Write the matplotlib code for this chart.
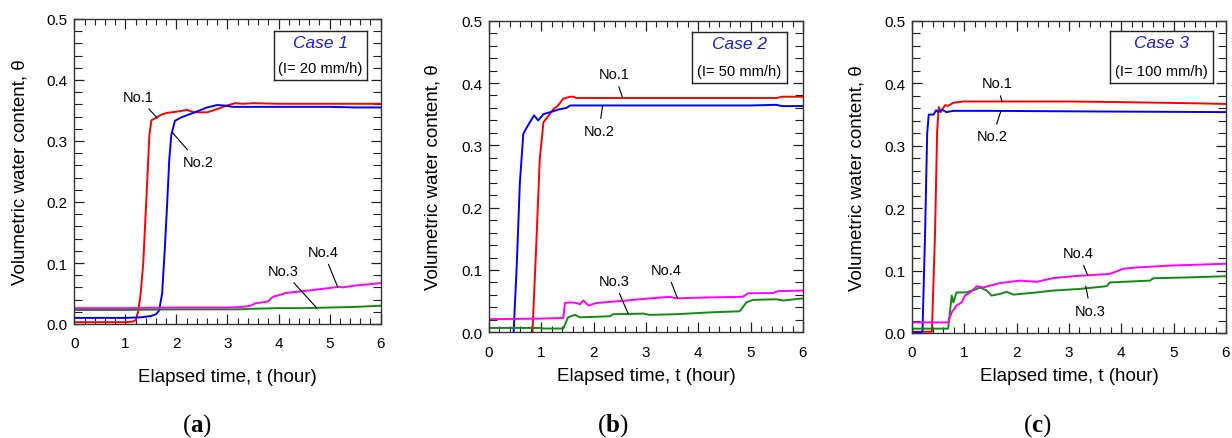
import matplotlib
matplotlib.use("Agg")
import matplotlib.pyplot as plt
from matplotlib.ticker import MultipleLocator

plt.rcParams['font.family'] = ['Liberation Sans', 'DejaVu Sans']
plt.rcParams['mathtext.fontset'] = 'custom'
plt.rcParams['mathtext.rm'] = 'Liberation Serif'
plt.rcParams['mathtext.bf'] = 'Liberation Serif:bold'

# ---------------- data ----------------
case_titles = ["Case 1", "Case 2", "Case 3"]
case_rates = ["(I= 20 mm/h)", "(I= 50 mm/h)", "(I= 100 mm/h)"]
panel_letters = ["a", "b", "c"]
sensor_names = ["No.1", "No.2", "No.3", "No.4"]
sensor_colors = ["#ff0000", "#0000ff", "#138a13", "#ff00ff"]

# Case 1
c1_t1 = [0, 0.5, 1.0, 1.15, 1.2, 1.25, 1.3, 1.35, 1.42, 1.47, 1.51, 1.6, 1.7, 1.81, 2.0, 2.2, 2.35, 2.6, 2.79, 2.98, 3.15, 3.3, 3.5, 4.0, 5.0, 6.0]
c1_v1 = [0.003, 0.003, 0.003, 0.004, 0.006, 0.02, 0.05, 0.10, 0.22, 0.31, 0.334, 0.338, 0.343, 0.346, 0.348, 0.351, 0.347, 0.347, 0.352, 0.358, 0.362, 0.361, 0.362, 0.361, 0.361, 0.361]
c1_t2 = [0, 0.5, 1.0, 1.3, 1.5, 1.6, 1.66, 1.72, 1.77, 1.82, 1.86, 1.9, 1.97, 2.1, 2.2, 2.45, 2.6, 2.8, 2.95, 3.1, 3.3, 4.0, 5.0, 5.5, 6.0]
c1_v2 = [0.010, 0.010, 0.010, 0.011, 0.013, 0.016, 0.022, 0.05, 0.12, 0.20, 0.27, 0.31, 0.333, 0.339, 0.342, 0.350, 0.355, 0.359, 0.358, 0.356, 0.356, 0.356, 0.356, 0.355, 0.355]
c1_t3 = [0, 1, 2, 3, 3.2, 3.5, 4.0, 4.5, 5.0, 5.5, 6.0]
c1_v3 = [0.023, 0.023, 0.024, 0.024, 0.024, 0.025, 0.026, 0.026, 0.027, 0.028, 0.030]
c1_t4 = [0, 1, 2, 3, 3.3, 3.45, 3.55, 3.65, 3.8, 3.85, 3.9, 4.0, 4.15, 4.5, 5.0, 5.2, 5.25, 5.5, 6.0]
c1_v4 = [0.026, 0.026, 0.027, 0.027, 0.028, 0.030, 0.034, 0.035, 0.037, 0.042, 0.045, 0.047, 0.051, 0.054, 0.059, 0.061, 0.060, 0.063, 0.067]

# Case 2
c2_t1 = [0.83, 0.90, 0.97, 1.04, 1.16, 1.23, 1.32, 1.42, 1.55, 1.61, 1.67, 2.0, 3.0, 4.0, 5.0, 5.5, 5.6, 6.0]
c2_v1 = [0.0, 0.134, 0.278, 0.337, 0.350, 0.358, 0.364, 0.375, 0.378, 0.378, 0.376, 0.376, 0.376, 0.376, 0.376, 0.376, 0.378, 0.378]
c2_t2 = [0.47, 0.53, 0.59, 0.655, 0.69, 0.78, 0.86, 0.94, 1.04, 1.16, 1.35, 1.48, 1.55, 2.0, 3.0, 4.0, 5.0, 5.49, 5.6, 6.0]
c2_v2 = [0.0, 0.107, 0.24, 0.318, 0.324, 0.337, 0.348, 0.340, 0.350, 0.353, 0.358, 0.360, 0.364, 0.364, 0.364, 0.364, 0.364, 0.365, 0.363, 0.363]
c2_t3 = [0, 1.0, 1.04, 1.42, 1.51, 1.64, 1.74, 2.31, 2.37, 2.95, 3.07, 3.58, 4.22, 4.79, 4.92, 5.04, 5.49, 5.62, 6.0]
c2_v3 = [0.007, 0.007, 0.006, 0.006, 0.024, 0.028, 0.024, 0.0257, 0.029, 0.030, 0.028, 0.029, 0.032, 0.0337, 0.048, 0.052, 0.053, 0.051, 0.0545]
c2_t4 = [0, 1.0, 1.42, 1.45, 1.55, 1.67, 1.74, 1.8, 1.9, 2.05, 2.63, 2.95, 3.45, 3.58, 4.22, 4.85, 4.95, 5.43, 5.52, 6.0]
c2_v4 = [0.021, 0.022, 0.023, 0.047, 0.048, 0.047, 0.045, 0.051, 0.043, 0.047, 0.051, 0.0535, 0.057, 0.0545, 0.056, 0.057, 0.0626, 0.063, 0.066, 0.067]

# Case 3
c3_t1 = [0, 0.38, 0.44, 0.48, 0.51, 0.55, 0.63, 0.69, 0.79, 0.98, 2.0, 3.0, 4.0, 5.5, 6.0]
c3_v1 = [0.002, 0.002, 0.16, 0.322, 0.362, 0.354, 0.365, 0.364, 0.369, 0.371, 0.371, 0.371, 0.370, 0.368, 0.367]
c3_t2 = [0, 0.15, 0.2, 0.25, 0.29, 0.32, 0.41, 0.46, 0.5, 0.57, 0.66, 0.79, 1.5, 3.5, 6.0]
c3_v2 = [0.001, 0.001, 0.002, 0.16, 0.32, 0.350, 0.350, 0.357, 0.354, 0.358, 0.354, 0.356, 0.356, 0.355, 0.354]
c3_t3 = [0, 0.69, 0.73, 0.76, 0.79, 0.85, 1.04, 1.24, 1.30, 1.43, 1.52, 1.68, 1.81, 1.94, 2.38, 2.7, 3.21, 3.72, 3.78, 4.29, 4.55, 4.61, 5.25, 6.0]
c3_v3 = [0.007, 0.007, 0.038, 0.060, 0.049, 0.065, 0.065, 0.0706, 0.073, 0.068, 0.060, 0.0626, 0.066, 0.0615, 0.065, 0.068, 0.0706, 0.075, 0.081, 0.083, 0.084, 0.0877, 0.089, 0.091]
c3_t4 = [0, 0.69, 0.76, 0.85, 0.95, 1.01, 1.11, 1.24, 1.36, 1.68, 2.06, 2.38, 2.70, 3.08, 3.78, 4.04, 4.29, 4.93, 6.0]
c3_v4 = [0.017, 0.017, 0.033, 0.044, 0.049, 0.060, 0.065, 0.075, 0.073, 0.080, 0.084, 0.082, 0.088, 0.091, 0.0947, 0.103, 0.105, 0.108, 0.111]

cases = [
    [(c1_t1, c1_v1), (c1_t2, c1_v2), (c1_t3, c1_v3), (c1_t4, c1_v4)],
    [(c2_t1, c2_v1), (c2_t2, c2_v2), (c2_t3, c2_v3), (c2_t4, c2_v4)],
    [(c3_t1, c3_v1), (c3_t2, c3_v2), (c3_t3, c3_v3), (c3_t4, c3_v4)],
]

# annotation (text position, point) per case and sensor, in data units
annots = [
    [((1.25, 0.372), (1.62, 0.338)), ((2.42, 0.266), (1.91, 0.315)),
     ((4.09, 0.087), (4.75, 0.026)), ((4.88, 0.118), (5.16, 0.060))],
    [((2.40, 0.414), (2.55, 0.377)), ((2.10, 0.323), (2.17, 0.363)),
     ((2.39, 0.082), (2.66, 0.030)), ((3.39, 0.100), (3.60, 0.055))],
    [((1.62, 0.400), (1.72, 0.371)), ((1.54, 0.315), (1.70, 0.356)),
     ((3.41, 0.036), (3.32, 0.075)), ((3.18, 0.128), (3.36, 0.092))],
]

# ---------------- layout (pixels) ----------------
W, H = 1232, 439
axes_px = [(74.3, 20, 380.7, 325), (489, 21.7, 803, 333.3), (912, 22, 1226, 334)]
box_px = [(274, 32, 367, 81), (692, 33, 787, 84), (1110, 32, 1213, 84)]
ylabel_x = [20, 433, 857]
xlabel_y = [378, 377, 377]
letter_px = [(197, 426), (613, 426), (1037, 426)]

fig = plt.figure(figsize=(W / 100, H / 100), dpi=100)

for i in range(3):
    l, t, r, b = axes_px[i]
    ax = fig.add_axes([l / W, 1 - b / H, (r - l) / W, (b - t) / H])
    for j, (tt, vv) in enumerate(cases[i]):
        ax.plot(tt, vv, color=sensor_colors[j], lw=1.4, solid_joinstyle='round')
    ax.set_xlim(0, 6)
    ax.set_ylim(0, 0.5)
    ax.xaxis.set_major_locator(MultipleLocator(1))
    ax.xaxis.set_minor_locator(MultipleLocator(0.2))
    ax.yaxis.set_major_locator(MultipleLocator(0.1))
    ax.yaxis.set_minor_locator(MultipleLocator(0.02))
    ax.yaxis.set_major_formatter(plt.FormatStrFormatter('%.1f'))
    ax.tick_params(which='both', direction='in', top=True, right=True,
                   labelsize=11, colors='#222222', labelcolor='black')
    ax.tick_params(which='major', length=7, width=0.9)
    ax.tick_params(axis='x', which='minor', length=4, width=0.8)
    ax.tick_params(axis='y', which='minor', length=6, width=0.8)
    ax.tick_params(axis='x', which='major', pad=9)
    ax.tick_params(axis='y', which='major', pad=5)
    for s in ax.spines.values():
        s.set_linewidth(1.0)
        s.set_color('#333333')

    ax.set_xlabel("Elapsed time, t (hour)", fontsize=13.5)
    ax.set_ylabel("Volumetric water content, θ", fontsize=13.5)
    ax.xaxis.label.set_va('center')
    ax.yaxis.label.set_va('center')
    ax.xaxis.set_label_coords(0.5, (b - xlabel_y[i]) / (b - t))
    ax.yaxis.set_label_coords((ylabel_x[i] - l) / (r - l), 0.5)

    for j, ((tx, ty), (px, py)) in enumerate(annots[i]):
        ax.annotate(sensor_names[j], xy=(px, py), xytext=(tx, ty),
                    ha='center', va='center', fontsize=10.5,
                    arrowprops=dict(arrowstyle='-', color='black', lw=0.8,
                                    shrinkA=2, shrinkB=0))

    bl, bt, br, bb = box_px[i]
    bx = fig.add_axes([bl / W, 1 - bb / H, (br - bl) / W, (bb - bt) / H])
    bx.set_xticks([])
    bx.set_yticks([])
    bx.set_facecolor('white')
    for s in bx.spines.values():
        s.set_linewidth(1.0)
        s.set_color('#222222')
    bx.text(0.5, 0.77, case_titles[i], transform=bx.transAxes, ha='center', va='center',
            fontsize=12.5, style='italic', color='#1a1ae6')
    bx.text(0.5, 0.24, case_rates[i], transform=bx.transAxes, ha='center', va='center',
            fontsize=10.6, color='black')

    lx, ly = letter_px[i]
    fig.text(lx / W, 1 - ly / H, r'$\mathrm{(}\mathbf{' + panel_letters[i] + r'}\mathrm{)}$',
             ha='center', va='center', fontsize=18)

fig.savefig("out.png", dpi=100)
